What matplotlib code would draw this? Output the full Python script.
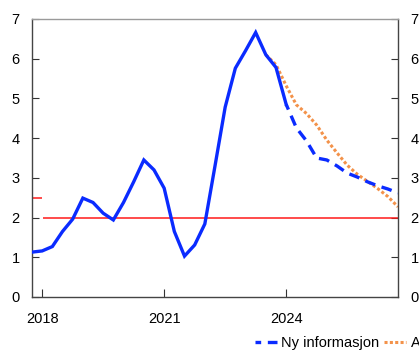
import numpy as np
import matplotlib
matplotlib.use("Agg")
import matplotlib.pyplot as plt

plt.rcParams['font.family'] = ['Liberation Sans', 'DejaVu Sans']

# Quarterly time axis (decimal years), 2017Q4 .. 2026Q4
start_year = 2017.75
n_quarters = 37

# Observed / historical series (2017Q4 .. 2024Q1)
history = [1.13, 1.16, 1.27, 1.65, 1.96, 2.49, 2.38, 2.11, 1.94, 2.38,
           2.90, 3.45, 3.20, 2.74, 1.65, 1.03, 1.31, 1.84, 3.30, 4.78,
           5.76, 6.20, 6.66, 6.10, 5.78, 4.85]

# "Ny informasjon" projection (2024Q1 .. 2026Q4)
new_info = [4.85, 4.26, 3.93, 3.50, 3.45, 3.30, 3.12, 3.02, 2.90, 2.80,
            2.72, 2.62]

# Previous projection (2023Q3 .. 2026Q4)
prev_proj = [6.10, 5.85, 5.32, 4.84, 4.62, 4.33, 3.95, 3.63, 3.32, 3.09,
             2.91, 2.73, 2.53, 2.27]

# Inflation target: 2.5 before 2018, 2 from 2018
target_old = [2.5, 2.5]
target_new = [2.0, 2.0]

xtick_years = [2018, 2021, 2024]
ytick_vals = [0, 1, 2, 3, 4, 5, 6, 7]

legend_labels = ["Ny informasjon", "Anslag PPR 4/23"]

t = start_year + 0.25 * np.arange(n_quarters)
t_hist = t[:len(history)]
t_new = t[len(history) - 1:len(history) - 1 + len(new_info)]
t_prev = t[23:23 + len(prev_proj)]

fig = plt.figure(figsize=(4.19, 3.51), dpi=100)
ax = fig.add_axes([32 / 419, 1 - 297 / 351, 366 / 419, 278 / 351])

blue = '#0a2bff'
orange = '#f3924a'
red = '#ff1a1a'

ax.plot([t[0], t[1]], target_old, color=red, lw=1.1, solid_capstyle='butt')
ax.plot([t[1] + 0.01, t[-1]], target_new, color=red, lw=1.1, solid_capstyle='butt')

ax.plot(t_prev, prev_proj, color=orange, lw=2.2, linestyle=(0, (1.0, 0.75)),
        dash_capstyle='butt', label=legend_labels[1], zorder=2)
ax.plot(t_hist, history, color=blue, lw=2.4, solid_joinstyle='miter', zorder=3)
ax.plot(t_new, new_info, color=blue, lw=2.4, linestyle=(1.5, (3.2, 2.0)),
        label=legend_labels[0], zorder=3)

ax.set_xlim(t[0], t[-1])
ax.set_ylim(0, 7)
ax.set_xticks(xtick_years)
ax.set_xticklabels([str(y) for y in xtick_years])
ax.set_yticks(ytick_vals)

ax.tick_params(axis='both', direction='in', labelsize=10.5, color='#333333')
ax.tick_params(axis='y', length=5, pad=9, left=True, right=True,
               labelleft=True, labelright=True)
ax.tick_params(axis='x', length=6, pad=11, top=False)

for side in ['left', 'bottom', 'right']:
    ax.spines[side].set_color('#444444')
    ax.spines[side].set_linewidth(1.0)
ax.spines['top'].set_color('#9a9a9a')
ax.spines['top'].set_linewidth(1.0)

handles, labels = ax.get_legend_handles_labels()
order = [1, 0]
fig.legend([handles[i] for i in order], [labels[i] for i in order],
           loc='center left', bbox_to_anchor=(255 / 419, 1 - 343 / 351),
           ncol=2, frameon=False, fontsize=10.5, borderaxespad=0,
           borderpad=0, handlelength=1.5, handletextpad=0.3,
           columnspacing=0.35)

fig.savefig('out.png', dpi=100)
